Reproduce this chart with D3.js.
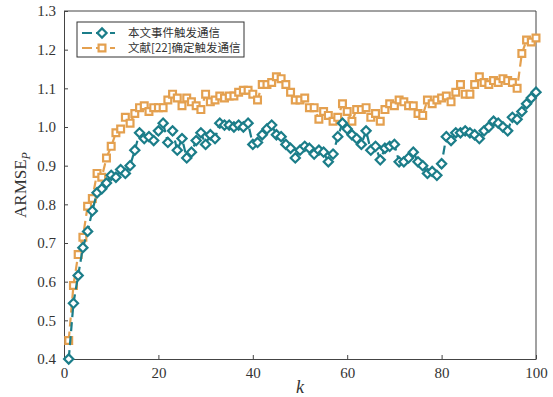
<!DOCTYPE html>
<html>
<head>
<meta charset="utf-8">
<script src="https://cdn.jsdelivr.net/npm/d3@7"></script>
<style>
body { margin: 0; background: #fff; }
text { font-family: "Liberation Serif", "Times New Roman", serif; fill: #333; }
.legend text { font-family: "Noto Sans CJK SC", sans-serif; }
</style>
</head>
<body>
<svg id="chart"></svg>
<script>
// values, k = 1..100
var proposed = [
	0.400, 0.544, 0.616, 0.688, 0.730, 0.783, 0.830, 0.840, 0.855, 0.875,
	0.870, 0.890, 0.880, 0.900, 0.940, 0.985, 0.970, 0.975, 0.965, 0.990,
	1.010, 0.960, 0.990, 0.940, 0.970, 0.920, 0.935, 0.965, 0.985, 0.955,
	0.980, 0.970, 1.010, 1.005, 1.005, 1.000, 1.005, 1.000, 1.010, 0.955,
	0.960, 0.980, 0.995, 1.005, 0.980, 0.975, 0.955, 0.945, 0.920, 0.940,
	0.950, 0.945, 0.930, 0.940, 0.935, 0.910, 0.930, 0.975, 1.010, 0.995,
	0.980, 0.970, 0.955, 0.990, 0.940, 0.950, 0.915, 0.945, 0.950, 0.955,
	0.910, 0.910, 0.920, 0.935, 0.910, 0.900, 0.880, 0.885, 0.875, 0.905,
	0.975, 0.965, 0.985, 0.985, 0.990, 0.985, 0.980, 0.970, 0.990, 1.000,
	1.015, 1.010, 1.000, 0.990, 1.025, 1.020, 1.040, 1.060, 1.075, 1.090
];
var reference = [
	0.448, 0.590, 0.670, 0.715, 0.795, 0.815, 0.880, 0.870, 0.920, 0.950,
	0.985, 0.995, 1.025, 1.010, 1.035, 1.050, 1.055, 1.040, 1.050, 1.050,
	1.050, 1.070, 1.085, 1.075, 1.055, 1.075, 1.065, 1.055, 1.045, 1.085,
	1.065, 1.070, 1.080, 1.075, 1.080, 1.080, 1.090, 1.095, 1.095, 1.085,
	1.070, 1.110, 1.110, 1.115, 1.130, 1.125, 1.110, 1.090, 1.070, 1.070,
	1.075, 1.050, 1.050, 1.020, 1.040, 1.030, 1.015, 1.025, 1.060, 1.040,
	1.015, 1.045, 1.045, 1.050, 1.025, 1.035, 1.015, 1.045, 1.060, 1.055,
	1.070, 1.065, 1.055, 1.055, 1.035, 1.030, 1.070, 1.060, 1.070, 1.075,
	1.080, 1.065, 1.090, 1.110, 1.085, 1.085, 1.110, 1.130, 1.115, 1.110,
	1.120, 1.115, 1.125, 1.120, 1.115, 1.100, 1.190, 1.225, 1.220, 1.230
];
var xTicks = [0, 20, 40, 60, 80, 100];
var yTicks = [0.4, 0.5, 0.6, 0.7, 0.8, 0.9, 1.0, 1.1, 1.2, 1.3];
var seriesNames = ["本文事件触发通信", "文献[22]确定触发通信"];
var seriesColors = ["#1b7d89", "#e4a04f"];

var margin = {top: 11, right: 17, bottom: 38, left: 64},
	width = 553 - margin.left - margin.right,
	height = 397 - margin.top - margin.bottom;

var x = d3.scaleLinear().domain([0, 100]).range([0, width]);
var y = d3.scaleLinear().domain([0.4, 1.3]).range([height, 0]);

var svg = d3.select("#chart")
	.attr("width", 553)
	.attr("height", 397);

var chart = svg.append("g")
	.attr("transform", "translate(" + margin.left + "," + margin.top + ")");

var xAxis = d3.axisBottom(x).tickValues(xTicks).tickSizeInner(-4).tickSizeOuter(0).tickPadding(8);
var yAxis = d3.axisLeft(y).tickValues(yTicks).tickSizeInner(-4).tickSizeOuter(0).tickPadding(8)
	.tickFormat(d3.format(".1f"));

chart.append("g")
	.attr("class", "x axis")
	.attr("transform", "translate(0," + height + ")")
	.call(xAxis);
chart.append("g")
	.attr("class", "y axis")
	.call(yAxis);

chart.selectAll(".axis path, .axis line").attr("stroke", "#444").attr("stroke-width", 1);
chart.selectAll(".axis text").attr("font-size", 15).attr("fill", "#333")
	.style("font-family", "'Liberation Serif', serif");

// box
chart.append("line").attr("x1", 0).attr("x2", width).attr("y1", 0).attr("y2", 0)
	.attr("stroke", "#444");
chart.append("line").attr("x1", width).attr("x2", width).attr("y1", 0).attr("y2", height)
	.attr("stroke", "#444");

var line = d3.line()
	.x(function(d, i) { return x(i + 1); })
	.y(function(d) { return y(d); });

function drawSeries(data, color, shape) {
	chart.append("path")
		.datum(data)
		.attr("fill", "none")
		.attr("stroke", color)
		.attr("stroke-width", 2.2)
		.attr("stroke-dasharray", "9,5")
		.attr("d", line);
	chart.selectAll(".m" + shape.name)
		.data(data)
	  .enter().append("path")
		.attr("class", "m" + shape.name)
		.attr("transform", function(d, i) { return "translate(" + x(i + 1) + "," + y(d) + ")"; })
		.attr("d", shape.d)
		.attr("fill", "#fff")
		.attr("stroke", color)
		.attr("stroke-width", 2.2);
}

var diamond = {name: "dia", d: "M0,-4.6L4.6,0L0,4.6L-4.6,0Z"};
var square = {name: "sq", d: "M-3.4,-3.4H3.4V3.4H-3.4Z"};

drawSeries(reference, seriesColors[1], square);
drawSeries(proposed, seriesColors[0], diamond);

// axis titles
chart.append("text")
	.attr("x", width / 2)
	.attr("y", height + 34)
	.attr("text-anchor", "middle")
	.attr("font-size", 18)
	.attr("font-style", "italic")
	.text("k");

var yl = chart.append("text")
	.attr("transform", "translate(-38," + (height / 2) + ") rotate(-90)")
	.attr("text-anchor", "middle")
	.attr("font-size", 17);
yl.append("tspan").text("ARMSE");
yl.append("tspan").attr("font-size", 12).attr("font-style", "italic").attr("dy", 4).text("P");

// legend
var legend = chart.append("g")
	.attr("class", "legend")
	.attr("transform", "translate(13,11)");
legend.append("rect")
	.attr("width", 167).attr("height", 35)
	.attr("fill", "#fff").attr("stroke", "#333").attr("stroke-width", 1);

var shapes = [diamond, square];
seriesNames.forEach(function(name, i) {
	var row = legend.append("g").attr("transform", "translate(0," + (11 + i * 15) + ")");
	row.append("line")
		.attr("x1", 5).attr("x2", 38).attr("y1", 0).attr("y2", 0)
		.attr("stroke", seriesColors[i]).attr("stroke-width", 2.2)
		.attr("stroke-dasharray", "10,4");
	row.append("path")
		.attr("transform", "translate(25,0)")
		.attr("d", shapes[i].d)
		.attr("fill", "#fff")
		.attr("stroke", seriesColors[i])
		.attr("stroke-width", 2.2);
	row.append("text")
		.attr("x", 51).attr("y", 4)
		.attr("font-size", 11.5)
		.text(name);
});
</script>
</body>
</html>
